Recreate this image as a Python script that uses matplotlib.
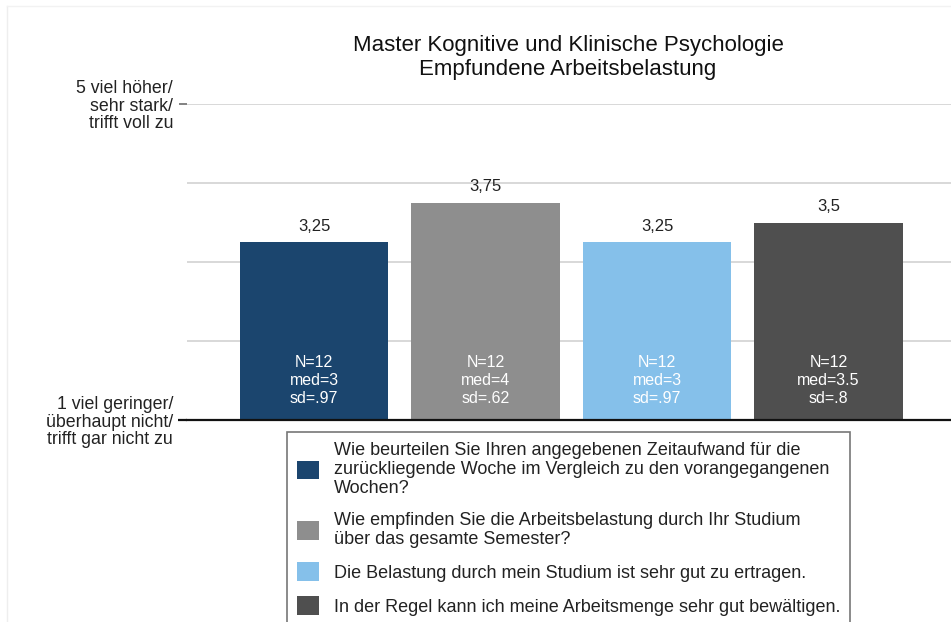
import matplotlib
matplotlib.use("Agg")
import matplotlib.pyplot as plt
from matplotlib.patches import Patch
from matplotlib.lines import Line2D
from matplotlib.transforms import blended_transform_factory

plt.rcParams['font.family'] = ['Liberation Sans', 'DejaVu Sans']

title_lines = ["Master Kognitive und Klinische Psychologie", "Empfundene Arbeitsbelastung"]
questions = [
    "Wie beurteilen Sie Ihren angegebenen Zeitaufwand für die\nzurückliegende Woche im Vergleich zu den vorangegangenen\nWochen?",
    "Wie empfinden Sie die Arbeitsbelastung durch Ihr Studium\nüber das gesamte Semester?",
    "Die Belastung durch mein Studium ist sehr gut zu ertragen.",
    "In der Regel kann ich meine Arbeitsmenge sehr gut bewältigen.",
]
means = [3.25, 3.75, 3.25, 3.5]
mean_labels = ["3,25", "3,75", "3,25", "3,5"]
n_values = [12, 12, 12, 12]
medians = ["3", "4", "3", "3.5"]
sds = [".97", ".62", ".97", ".8"]
colors = ["#1b456e", "#8e8e8e", "#85c0ea", "#4f4f4f"]
ytick_vals = [1, 5]
ytick_labels = ["1 viel geringer/\nüberhaupt nicht/\ntrifft gar nicht zu",
                "5 viel höher/\nsehr stark/\ntrifft voll zu"]

W, H = 951, 622
fig = plt.figure(figsize=(W / 100, H / 100), dpi=100)
fig.patch.set_facecolor("white")

ax_left, ax_right = 187, 951
ax_top, ax_bottom = 104, 420
ax = fig.add_axes([ax_left / W, 1 - ax_bottom / H, (ax_right - ax_left) / W, (ax_bottom - ax_top) / H])
ax.set_ylim(1, 5)
ax.set_xlim(-0.7405, 3.714)

x = list(range(len(means)))
ax.bar(x, [m - 1 for m in means], bottom=1, width=0.865, color=colors, zorder=3)

for g in [2, 3, 4, 5]:
    ax.axhline(g, color="#d6d6d6", lw=1.3, zorder=1)

for s in ["top", "right", "left"]:
    ax.spines[s].set_visible(False)
ax.spines["bottom"].set_color("#111111")
ax.spines["bottom"].set_linewidth(1.6)
ax.spines["bottom"].set_zorder(4)
ax.set_xticks([])
ax.set_yticks(ytick_vals)
ax.set_yticklabels(ytick_labels, fontsize=12.8, color="#222222", linespacing=1.04)
ax.tick_params(axis="y", length=6, width=1.3, pad=4, color="#777777")

trans = blended_transform_factory(ax.transAxes, ax.transData)
ax.plot([-9 / (ax_right - ax_left), 0], [1, 1], transform=trans, color="#111111", lw=1.6,
        clip_on=False, zorder=5, solid_capstyle="butt")

for xi, m, lab in zip(x, means, mean_labels):
    ax.annotate(lab, (xi, m), xytext=(0, 6), textcoords="offset points",
                ha="center", va="bottom", fontsize=12, color="#222222")

for xi, n, md, sd in zip(x, n_values, medians, sds):
    ax.annotate(f"N={n}\nmed={md}\nsd={sd}", (xi, 1), xytext=(0, 10), textcoords="offset points",
                ha="center", va="bottom", fontsize=11.5, color="white",
                linespacing=1.25, zorder=5)

fig.text(568 / W, 1 - 46 / H, title_lines[0], ha="center", va="center", fontsize=16, color="#111111")
fig.text(568 / W, 1 - 69 / H, title_lines[1], ha="center", va="center", fontsize=16, color="#111111")

handles = [Patch(facecolor=c, edgecolor="none") for c in colors]
leg = fig.legend(handles, questions, loc="upper left", bbox_to_anchor=(287 / W, 1 - 432 / H),
                 bbox_transform=fig.transFigure, frameon=True, fancybox=False,
                 fontsize=13, handlelength=1.2, handleheight=1.2, handletextpad=0.85,
                 borderpad=0.55, borderaxespad=0, labelspacing=0.8)
leg.get_frame().set_edgecolor("#555555")
leg.get_frame().set_linewidth(1.2)
for t in leg.get_texts():
    t.set_color("#222222")
    t.set_linespacing(1.17)

fig.add_artist(Line2D([7 / W, 7 / W], [0, 1 - 6 / H], transform=fig.transFigure, color="#eeeeee", lw=1))
fig.add_artist(Line2D([7 / W, 1], [1 - 6 / H, 1 - 6 / H], transform=fig.transFigure, color="#f2f2f2", lw=1))

fig.savefig("out.png", dpi=100)
